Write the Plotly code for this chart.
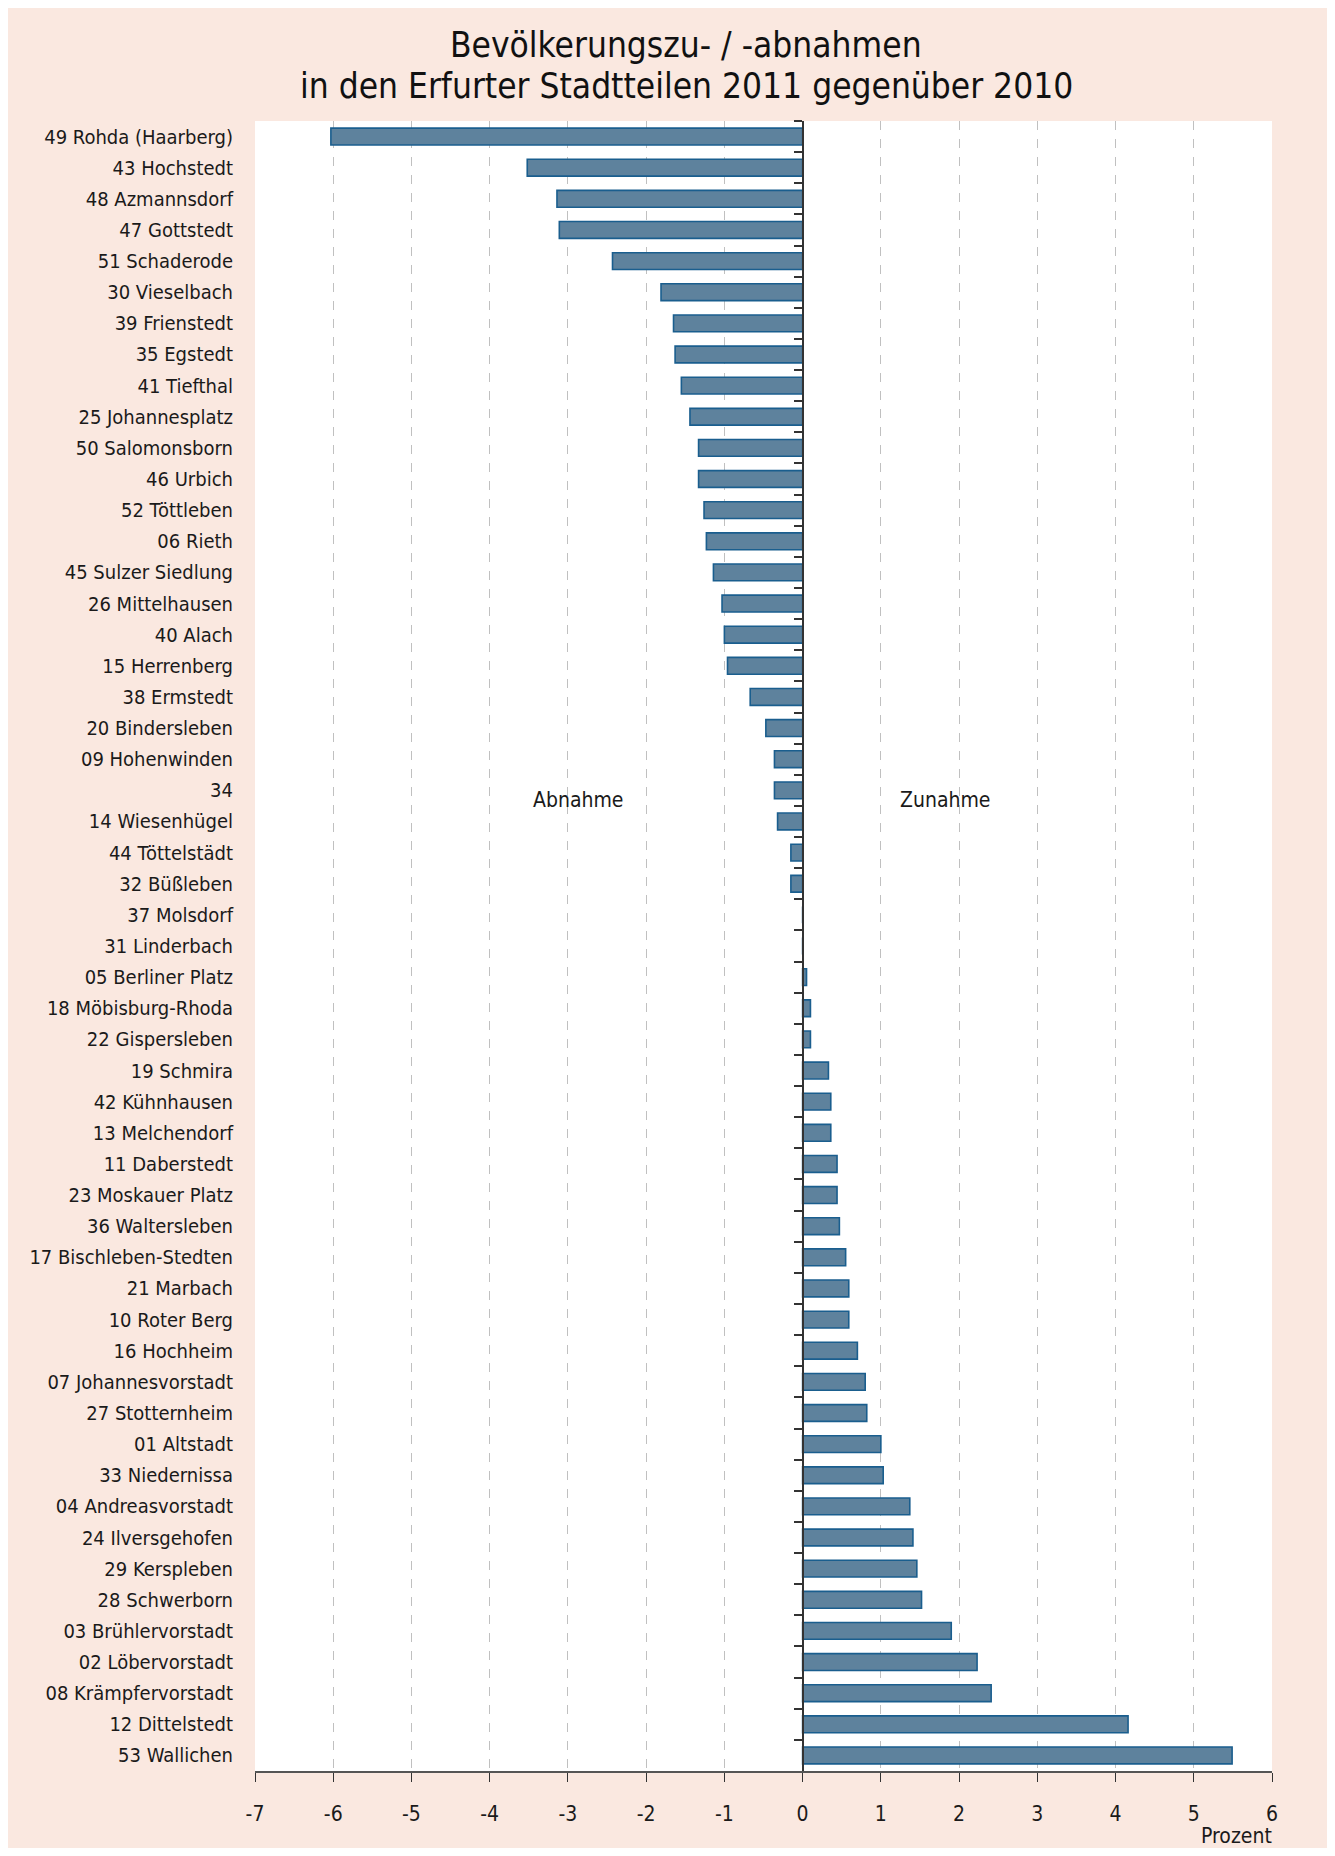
import plotly.graph_objects as go

categories = [
    "49 Rohda (Haarberg)", "43 Hochstedt", "48 Azmannsdorf", "47 Gottstedt", "51 Schaderode",
    "30 Vieselbach", "39 Frienstedt", "35 Egstedt", "41 Tiefthal", "25 Johannesplatz",
    "50 Salomonsborn", "46 Urbich", "52 Töttleben", "06 Rieth", "45 Sulzer Siedlung",
    "26 Mittelhausen", "40 Alach", "15 Herrenberg", "38 Ermstedt", "20 Bindersleben",
    "09 Hohenwinden", "34", "14 Wiesenhügel", "44 Töttelstädt", "32 Büßleben",
    "37 Molsdorf", "31 Linderbach", "05 Berliner Platz", "18 Möbisburg-Rhoda", "22 Gispersleben",
    "19 Schmira", "42 Kühnhausen", "13 Melchendorf", "11 Daberstedt", "23 Moskauer Platz",
    "36 Waltersleben", "17 Bischleben-Stedten", "21 Marbach", "10 Roter Berg", "16 Hochheim",
    "07 Johannesvorstadt", "27 Stotternheim", "01 Altstadt", "33 Niedernissa", "04 Andreasvorstadt",
    "24 Ilversgehofen", "29 Kerspleben", "28 Schwerborn", "03 Brühlervorstadt", "02 Löbervorstadt",
    "08 Krämpfervorstadt", "12 Dittelstedt", "53 Wallichen",
]
values = [
    -6.03, -3.52, -3.14, -3.11, -2.43,
    -1.81, -1.65, -1.63, -1.55, -1.44,
    -1.33, -1.33, -1.26, -1.23, -1.14,
    -1.03, -1.00, -0.96, -0.67, -0.47,
    -0.36, -0.36, -0.32, -0.15, -0.15,
    0.0, 0.0, 0.05, 0.10, 0.10,
    0.33, 0.36, 0.36, 0.44, 0.44,
    0.47, 0.55, 0.59, 0.59, 0.70,
    0.80, 0.82, 1.00, 1.03, 1.37,
    1.41, 1.46, 1.52, 1.90, 2.23,
    2.41, 4.16, 5.49,
]
x_ticks = list(range(-7, 7))
title_lines = ["Bevölkerungszu- / -abnahmen", "in den Erfurter Stadtteilen 2011 gegenüber 2010"]
x_title = "Prozent"
region_labels = ["Abnahme", "Zunahme"]

# page body has an 8px margin; figure coordinates are reference coords minus 8
OFF = 8
W, H = 1335 - OFF, 1840
ML = 255 - OFF
PR = 1272 - OFF
MT = 121 - OFF
AX = 1771 - OFF
MR = W - PR
MB = H - AX
PW, PH = PR - ML, AX - MT

def px_x(p):
    return (p - OFF - ML) / PW

def px_y(p):
    return (AX - (p - OFF)) / PH

FONT = "DejaVu Sans Condensed, Liberation Sans Narrow, Arial Narrow, sans-serif"
PEACH = "#FAE8E0"
n = len(categories)

fig = go.Figure()
fig.add_trace(go.Bar(
    x=values, y=categories, orientation="h",
    marker=dict(color="#5E829D", line=dict(color="#1A5E8E", width=1.6)),
    showlegend=False, hoverinfo="x+y",
))
fig.add_trace(go.Scatter(
    x=[0] * n, y=categories, yaxis="y2", mode="markers",
    marker=dict(opacity=0), showlegend=False, hoverinfo="skip",
))

fig.update_layout(
    width=W, height=H,
    margin=dict(l=ML, r=MR, t=MT, b=MB, pad=0),
    paper_bgcolor=PEACH, plot_bgcolor="white",
    bargap=0.46,
    font=dict(family=FONT, color="#1a1a1a"),
    xaxis=dict(
        range=[-7, 6], tickmode="array", tickvals=x_ticks,
        ticktext=[str(v) for v in x_ticks],
        showgrid=True, gridcolor="#c0c0c0", griddash="dash", gridwidth=1,
        zeroline=False, showline=True, linecolor="#555555", linewidth=1.5,
        ticks="outside", ticklen=9, tickcolor="#333333", tickwidth=1.2,
        tickfont=dict(size=21, family=FONT, color="#1a1a1a"),
        ticklabelstandoff=14,
    ),
    yaxis=dict(
        type="category", categoryorder="array", categoryarray=categories,
        range=[n - 0.5, -0.5], showgrid=False, zeroline=False, showline=False,
        ticks="", ticklabelstandoff=21,
        tickfont=dict(size=20, family=FONT, color="#1a1a1a"),
    ),
    yaxis2=dict(
        type="category", categoryorder="array", categoryarray=categories,
        range=[n - 0.5, -0.5], overlaying="y", anchor="free", position=7 / 13,
        side="left", showticklabels=False, showgrid=False, zeroline=False,
        showline=True, linecolor="#333333", linewidth=1.5,
        ticks="outside", ticklen=8, tickcolor="#333333", tickwidth=1.5,
        tickson="boundaries",
    ),
)

ann = []
for txt, ypx in zip(title_lines, [45, 86]):
    ann.append(dict(text=txt, xref="paper", yref="paper", x=px_x(686), y=px_y(ypx),
                    xanchor="center", yanchor="middle", showarrow=False,
                    font=dict(size=35, family=FONT, color="#111111")))
ann.append(dict(text=x_title, xref="paper", yref="paper", x=px_x(1274), y=px_y(1836),
                xanchor="right", yanchor="middle", showarrow=False,
                font=dict(size=21, family=FONT, color="#1a1a1a")))
for txt, xv in zip(region_labels, [-2.87, 1.82]):
    ann.append(dict(text=txt, xref="x", yref="paper", x=xv, y=px_y(800),
                    xanchor="center", yanchor="middle", showarrow=False,
                    font=dict(size=21, family=FONT, color="#1a1a1a")))
fig.update_layout(annotations=ann)

fig.write_html("out.html")
